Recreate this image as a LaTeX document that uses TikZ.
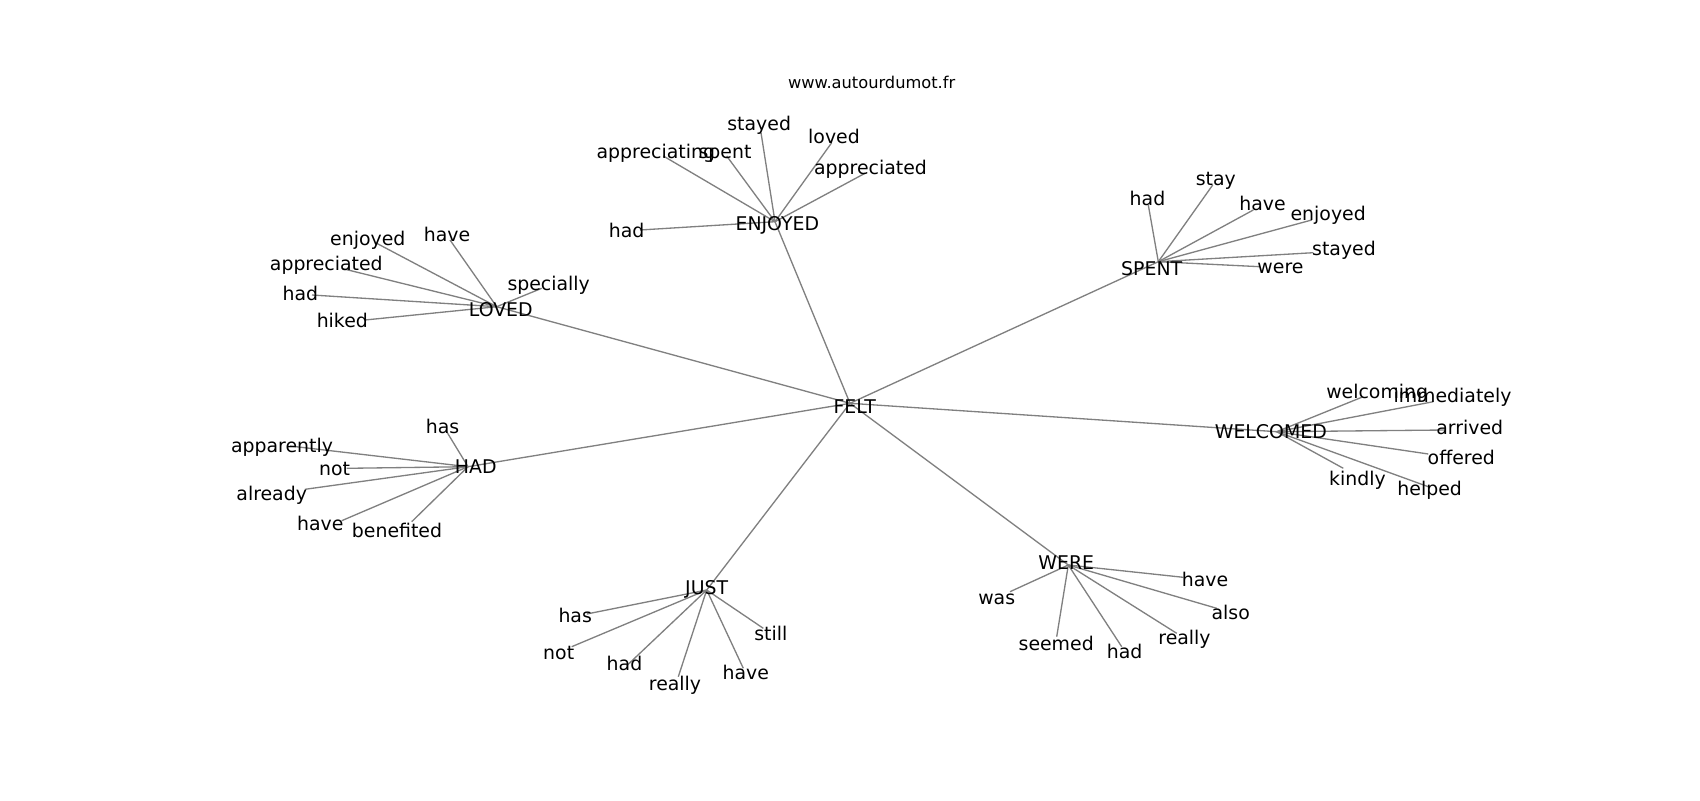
\documentclass[tikz,border=0pt]{standalone}
\usepackage{fontspec}
\newfontfamily\dejavu{DejaVu Sans}
\begin{document}
\begin{tikzpicture}[x=0.72pt,y=-0.72pt,
  lbl/.style={inner sep=0pt,anchor=center,yshift=-2.9pt,text height=0.76em,text depth=0.24em,font=\dejavu\fontsize{13.6}{16}\selectfont},
  ttl/.style={inner sep=0pt,anchor=center,font=\dejavu\fontsize{11.7}{14}\selectfont},
  edge/.style={draw=gray,line width=0.95pt}]
\useasboundingbox (0,0) rectangle (1700,800);
\fill[white] (0,0) rectangle (1700,800);
\node[ttl] (title) at (871.7,82.5) {www.autourdumot.fr};
% hubs
\coordinate (felt) at (850,403.3);
\coordinate (enj) at (775,221.7);
\coordinate (lov) at (496.7,306.7);
\coordinate (had) at (468,466.7);
\coordinate (spe) at (1158.3,261.7);
\coordinate (wel) at (1276.7,431.7);
\coordinate (jus) at (706.7,590);
\coordinate (wer) at (1068.3,565);
\foreach \h in {enj,lov,had,spe,wel,jus,wer}{\draw[edge] (felt) -- (\h);}
% leaves
\foreach \n/\t/\lx/\ly/\ex/\ey in {
  1/stayed/759.2/123.3/761/132.7,
  2/loved/834/136/831.7/142.7,
  3/appreciated/870.5/167.3/865/173.3,
  4/appreciating/655.8/151/663.3/156,
  5/spent/725/151/726.7/156,
  6/had/626.7/230/640/230}
  {\coordinate (enj\n) at (\ex,\ey); \draw[edge] (enj) -- (enj\n); \node[lbl] (enj\n-l) at (\lx,\ly) {\t};}
\foreach \n/\t/\lx/\ly/\ex/\ey in {
  1/enjoyed/367.8/238.3/376.7/243.3,
  2/have/447/234.3/450/240,
  3/appreciated/326.3/263.3/342/268.5,
  4/had/300.3/293.3/312/295,
  5/hiked/342.3/320/365/320,
  6/specially/548.7/282.7/541.7/288.3}
  {\coordinate (lov\n) at (\ex,\ey); \draw[edge] (lov) -- (lov\n); \node[lbl] (lov\n-l) at (\lx,\ly) {\t};}
\foreach \n/\t/\lx/\ly/\ex/\ey in {
  1/has/442.5/425.7/446.7/431.7,
  2/apparently/282/445/290/446,
  3/not/334.5/468.3/346.7/468.3,
  4/already/271.7/493.3/305/489.3,
  5/have/320.2/523.3/341.7/520.7,
  6/benefited/397/530/411.7/521.7}
  {\coordinate (had\n) at (\ex,\ey); \draw[edge] (had) -- (had\n); \node[lbl] (had\n-l) at (\lx,\ly) {\t};}
\foreach \n/\t/\lx/\ly/\ex/\ey in {
  1/had/1147.5/198.3/1148.3/205,
  2/stay/1215.8/178.3/1212.7/185,
  3/have/1262.5/203.3/1253.3/210,
  4/enjoyed/1328.2/213.3/1311.7/220,
  5/stayed/1344/248.3/1313.3/252.7,
  6/were/1280.5/265.7/1260/266.7}
  {\coordinate (spe\n) at (\ex,\ey); \draw[edge] (spe) -- (spe\n); \node[lbl] (spe\n-l) at (\lx,\ly) {\t};}
\foreach \n/\t/\lx/\ly/\ex/\ey in {
  1/welcoming/1377.2/390.7/1361.7/397.3,
  2/immediately/1452.5/395/1433.3/401.7,
  3/arrived/1469.7/426.7/1445/430,
  4/offered/1461.3/457.3/1428.3/454,
  5/kindly/1357.5/478.3/1343.3/468.3,
  6/helped/1429.7/488.3/1428.3/486.7}
  {\coordinate (wel\n) at (\ex,\ey); \draw[edge] (wel) -- (wel\n); \node[lbl] (wel\n-l) at (\lx,\ly) {\t};}
\foreach \n/\t/\lx/\ly/\ex/\ey in {
  1/has/575.2/615/586.7/614,
  2/not/558.7/651.7/571.7/646.7,
  3/had/624.5/662.7/626.7/665.7,
  4/really/675/683.3/678.3/676.7,
  5/have/745.8/671.7/743.3/668.3,
  6/still/770.8/632.7/763.3/628.3}
  {\coordinate (jus\n) at (\ex,\ey); \draw[edge] (jus) -- (jus\n); \node[lbl] (jus\n-l) at (\lx,\ly) {\t};}
\foreach \n/\t/\lx/\ly/\ex/\ey in {
  1/was/996.7/596.7/1010/591.7,
  2/seemed/1056.2/643.3/1056.7/636.7,
  3/had/1124.7/650.7/1121.7/646.7,
  4/really/1184.5/636.7/1176.7/633.3,
  5/also/1230.7/612.3/1216.7/608.3,
  6/have/1205/579/1183.3/577.3}
  {\coordinate (wer\n) at (\ex,\ey); \draw[edge] (wer) -- (wer\n); \node[lbl] (wer\n-l) at (\lx,\ly) {\t};}
% hub labels
\node[lbl] (felt-l) at (854.7,406) {FELT};
\node[lbl] (enj-l) at (777.3,222.7) {ENJOYED};
\node[lbl] (lov-l) at (500.8,309.3) {LOVED};
\node[lbl] (had-l) at (475.8,465.7) {HAD};
\node[lbl] (spe-l) at (1151.7,268.3) {SPENT};
\node[lbl] (wel-l) at (1270.8,431) {WELCOMED};
\node[lbl] (jus-l) at (706.7,586.7) {JUST};
\node[lbl] (wer-l) at (1066.3,562.3) {WERE};
\end{tikzpicture}
\end{document}
